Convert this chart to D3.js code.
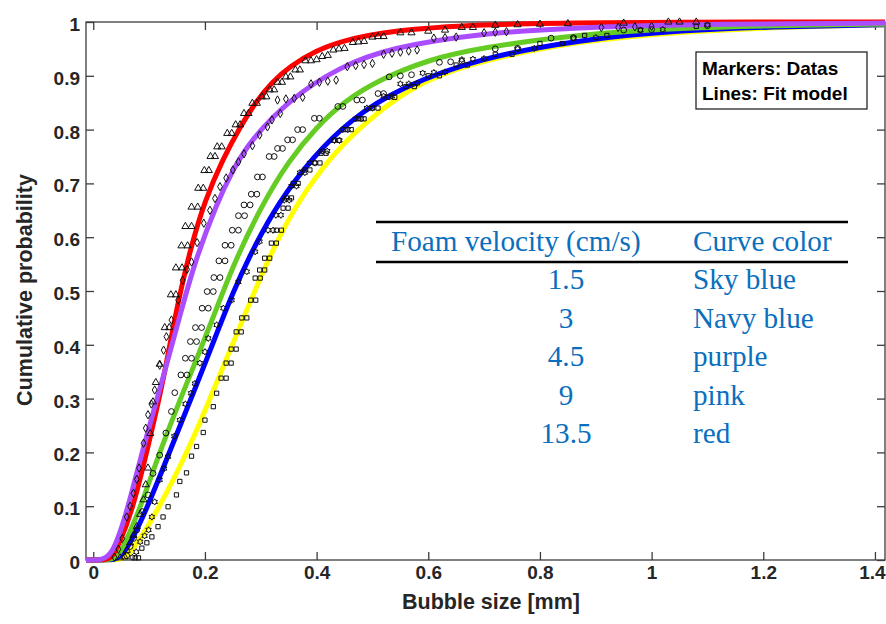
<!DOCTYPE html>
<html><head><meta charset="utf-8">
<script src="https://cdn.jsdelivr.net/npm/d3@7"></script>
<style>body{margin:0;background:#fff}svg{display:block}</style>
</head><body>
<svg id="chart" width="886" height="624"></svg>
<script>
// ---------- DATA ----------
const xTicks = [0, 0.2, 0.4, 0.6, 0.8, 1, 1.2, 1.4];
const xTickLabels = ["0", "0.2", "0.4", "0.6", "0.8", "1", "1.2", "1.4"];
const yTicks = [0, 0.1, 0.2, 0.3, 0.4, 0.5, 0.6, 0.7, 0.8, 0.9, 1];
const yTickLabels = ["0", "0.1", "0.2", "0.3", "0.4", "0.5", "0.6", "0.7", "0.8", "0.9", "1"];
const xLabel = "Bubble size [mm]";
const yLabel = "Cumulative probability";
const legendLines = ["Markers: Datas", "Lines: Fit model"];

// fit model lines [x, p]
const fitYellow = [[-0.013,0],[0.04,0],[0.05,0.002],[0.06,0.008],[0.075,0.025],[0.113,0.087],[0.173,0.21],[0.209,0.3],[0.239,0.375],[0.275,0.465],[0.316,0.566],[0.365,0.665],[0.43,0.756],[0.489,0.815],[0.549,0.863],[0.603,0.895],[0.692,0.928],[0.871,0.965],[1.05,0.982],[1.25,0.991],[1.418,0.995]];
const fitBlue = [[-0.013,0],[0.03,0],[0.04,0.002],[0.05,0.008],[0.063,0.025],[0.093,0.087],[0.14,0.21],[0.185,0.325],[0.215,0.405],[0.251,0.5],[0.286,0.578],[0.331,0.664],[0.394,0.75],[0.46,0.818],[0.549,0.878],[0.692,0.933],[0.871,0.967],[1.05,0.985],[1.25,0.992],[1.418,0.995]];
const fitGreen = [[-0.013,0],[0.025,0],[0.035,0.002],[0.045,0.009],[0.054,0.025],[0.081,0.087],[0.122,0.21],[0.166,0.325],[0.209,0.435],[0.251,0.55],[0.301,0.658],[0.35,0.742],[0.4,0.805],[0.45,0.853],[0.513,0.893],[0.6,0.93],[0.692,0.952],[0.871,0.977],[1.05,0.989],[1.25,0.994],[1.418,0.996]];
const fitRed = [[-0.013,0],[0.018,0],[0.028,0.002],[0.036,0.01],[0.044,0.025],[0.069,0.087],[0.098,0.21],[0.127,0.34],[0.146,0.452],[0.173,0.576],[0.2,0.669],[0.232,0.745],[0.263,0.805],[0.292,0.853],[0.32,0.888],[0.352,0.918],[0.4,0.947],[0.442,0.964],[0.53,0.984],[0.692,0.996],[0.9,0.999],[1.2,1],[1.418,1]];
const fitPurple = [[-0.013,0],[0.012,0],[0.022,0.004],[0.03,0.011],[0.039,0.025],[0.06,0.087],[0.0895,0.21],[0.124,0.335],[0.158,0.465],[0.182,0.555],[0.222,0.665],[0.25,0.725],[0.28,0.778],[0.352,0.857],[0.442,0.917],[0.531,0.952],[0.692,0.979],[0.871,0.99],[1.05,0.995],[1.25,0.997],[1.418,0.998]];

// measured data markers [x, p]
const dataTriangles = [[0.048,0.004],[0.056,0.006],[0.06,0.018],[0.066,0.032],[0.072,0.046],[0.078,0.062],[0.084,0.085],[0.09,0.112],[0.094,0.14],[0.098,0.171],[0.102,0.235],[0.107,0.294],[0.112,0.33],[0.119,0.364],[0.128,0.432],[0.136,0.432],[0.139,0.493],[0.148,0.493],[0.148,0.543],[0.159,0.543],[0.158,0.584],[0.169,0.584],[0.165,0.62],[0.176,0.62],[0.176,0.656],[0.187,0.656],[0.188,0.691],[0.197,0.691],[0.199,0.724],[0.207,0.724],[0.21,0.75],[0.218,0.75],[0.222,0.768],[0.23,0.768],[0.24,0.793],[0.248,0.793],[0.255,0.809],[0.263,0.809],[0.27,0.83],[0.278,0.83],[0.285,0.849],[0.293,0.849],[0.302,0.861],[0.31,0.861],[0.316,0.874],[0.324,0.874],[0.33,0.888],[0.338,0.888],[0.345,0.898],[0.353,0.898],[0.362,0.911],[0.37,0.911],[0.38,0.928],[0.39,0.928],[0.4,0.93],[0.41,0.936],[0.42,0.938],[0.43,0.948],[0.44,0.95],[0.45,0.951],[0.465,0.962],[0.475,0.963],[0.485,0.964],[0.5,0.972],[0.51,0.973],[0.52,0.973],[0.55,0.98],[0.57,0.98],[0.6,0.983],[0.63,0.985],[0.66,0.99],[0.68,0.99],[0.72,0.994],[0.76,0.995],[0.8,0.996],[0.85,0.997],[0.95,0.998],[1.03,1.0],[1.05,1.0],[1.08,1.0]];
const dataDiamonds = [[0.038,0.005],[0.045,0.02],[0.052,0.04],[0.06,0.08],[0.066,0.1],[0.072,0.124],[0.078,0.15],[0.082,0.171],[0.09,0.217],[0.094,0.245],[0.098,0.27],[0.104,0.29],[0.11,0.316],[0.119,0.362],[0.126,0.39],[0.131,0.415],[0.14,0.446],[0.152,0.483],[0.16,0.52],[0.168,0.54],[0.176,0.554],[0.186,0.59],[0.198,0.626],[0.209,0.65],[0.218,0.672],[0.227,0.694],[0.238,0.71],[0.25,0.725],[0.26,0.74],[0.27,0.755],[0.285,0.77],[0.298,0.79],[0.312,0.805],[0.32,0.818],[0.335,0.83],[0.33,0.855],[0.345,0.857],[0.36,0.858],[0.375,0.86],[0.39,0.885],[0.405,0.888],[0.42,0.89],[0.435,0.892],[0.455,0.917],[0.47,0.919],[0.485,0.921],[0.5,0.923],[0.52,0.94],[0.535,0.942],[0.55,0.944],[0.565,0.946],[0.58,0.948],[0.61,0.97],[0.63,0.971],[0.65,0.972],[0.7,0.98],[0.72,0.981],[0.74,0.982],[0.91,0.99],[0.94,0.99],[0.97,0.991],[1.0,0.992]];
const dataCircles = [[0.06,0.008],[0.066,0.025],[0.072,0.04],[0.078,0.056],[0.088,0.09],[0.098,0.121],[0.107,0.161],[0.119,0.195],[0.13,0.236],[0.14,0.276],[0.146,0.311],[0.157,0.344],[0.168,0.344],[0.165,0.375],[0.176,0.375],[0.174,0.406],[0.185,0.406],[0.183,0.432],[0.194,0.432],[0.195,0.468],[0.206,0.468],[0.204,0.499],[0.215,0.499],[0.216,0.525],[0.227,0.525],[0.225,0.556],[0.236,0.556],[0.236,0.585],[0.247,0.585],[0.249,0.613],[0.26,0.613],[0.26,0.64],[0.271,0.64],[0.27,0.66],[0.281,0.66],[0.283,0.68],[0.293,0.68],[0.294,0.712],[0.303,0.712],[0.315,0.75],[0.324,0.75],[0.33,0.765],[0.339,0.765],[0.348,0.781],[0.357,0.781],[0.366,0.8],[0.375,0.8],[0.396,0.821],[0.405,0.821],[0.438,0.843],[0.447,0.843],[0.472,0.855],[0.482,0.855],[0.51,0.867],[0.52,0.867],[0.53,0.898],[0.55,0.9],[0.57,0.902],[0.62,0.925],[0.64,0.926],[0.66,0.927],[0.72,0.95],[0.76,0.951],[0.82,0.97],[0.86,0.971],[0.95,0.985],[1.0,0.986],[1.1,0.993]];
const dataHexagrams = [[0.07,0.005],[0.077,0.015],[0.084,0.034],[0.092,0.045],[0.099,0.056],[0.105,0.08],[0.11,0.108],[0.119,0.149],[0.127,0.17],[0.134,0.192],[0.145,0.23],[0.155,0.26],[0.165,0.29],[0.175,0.31],[0.182,0.328],[0.191,0.366],[0.2,0.387],[0.206,0.412],[0.221,0.437],[0.233,0.468],[0.248,0.483],[0.26,0.517],[0.275,0.536],[0.29,0.573],[0.298,0.592],[0.313,0.613],[0.322,0.613],[0.327,0.641],[0.336,0.641],[0.342,0.669],[0.351,0.669],[0.355,0.695],[0.364,0.695],[0.37,0.72],[0.379,0.72],[0.388,0.738],[0.397,0.738],[0.41,0.76],[0.419,0.76],[0.432,0.78],[0.441,0.78],[0.447,0.8],[0.456,0.8],[0.47,0.82],[0.48,0.82],[0.49,0.84],[0.5,0.84],[0.52,0.862],[0.535,0.862],[0.55,0.885],[0.565,0.885],[0.58,0.886],[0.59,0.905],[0.61,0.906],[0.63,0.907],[0.66,0.93],[0.68,0.931],[0.7,0.932],[0.76,0.95],[0.79,0.951],[0.86,0.97],[0.9,0.971],[0.98,0.985],[1.02,0.986],[1.1,0.995]];
const dataSquares = [[0.075,0.004],[0.081,0.004],[0.087,0.022],[0.096,0.032],[0.105,0.043],[0.116,0.062],[0.125,0.08],[0.134,0.099],[0.149,0.121],[0.155,0.146],[0.167,0.162],[0.176,0.193],[0.185,0.211],[0.197,0.237],[0.2,0.26],[0.215,0.285],[0.221,0.31],[0.229,0.338],[0.238,0.338],[0.238,0.366],[0.247,0.366],[0.247,0.392],[0.256,0.392],[0.256,0.424],[0.265,0.424],[0.266,0.45],[0.275,0.45],[0.282,0.483],[0.291,0.483],[0.29,0.524],[0.299,0.524],[0.298,0.539],[0.307,0.539],[0.307,0.561],[0.316,0.561],[0.319,0.589],[0.328,0.589],[0.328,0.613],[0.337,0.613],[0.34,0.654],[0.349,0.654],[0.346,0.673],[0.355,0.673],[0.358,0.7],[0.367,0.7],[0.379,0.725],[0.388,0.725],[0.397,0.738],[0.406,0.738],[0.408,0.756],[0.417,0.756],[0.43,0.78],[0.44,0.78],[0.452,0.8],[0.462,0.8],[0.475,0.82],[0.485,0.82],[0.5,0.84],[0.51,0.84],[0.528,0.86],[0.54,0.86],[0.56,0.88],[0.575,0.88],[0.6,0.9],[0.62,0.9],[0.65,0.92],[0.67,0.92],[0.72,0.94],[0.75,0.94],[0.8,0.96],[0.84,0.96],[0.88,0.975],[0.92,0.975],[0.98,0.985],[1.08,0.992]];

// table
const tableHeader = ["Foam velocity (cm/s)", "Curve color"];
const foamVelocity = ["1.5", "3", "4.5", "9", "13.5"];
const curveColorNames = ["Sky blue", "Navy blue", "purple", "pink", "red"];

// ---------- CHART ----------
const svg = d3.select("#chart");
const L = 86, R = 885, T = 22, B = 560;
const x = d3.scaleLinear().domain([-0.013, 1.418]).range([L, R]);
const y = d3.scaleLinear().domain([0, 1]).range([B, T]);
const axisColor = "#3c3c3c";
const font = "'Liberation Sans', Arial, sans-serif";

// axes box and ticks
const gAx = svg.append("g");
gAx.append("rect").attr("x", L).attr("y", T).attr("width", R - L).attr("height", B - T)
  .attr("fill", "none").attr("stroke", axisColor).attr("stroke-width", 1.3);

function styleAxis(g, showLabels) {
  g.select(".domain").remove();
  g.selectAll(".tick line").attr("stroke", axisColor).attr("stroke-width", 1.3);
  g.selectAll(".tick text").attr("fill", "#262626").style("font-family", font)
    .style("font-size", "19px").style("font-weight", "bold");
  if (!showLabels) g.selectAll(".tick text").remove();
}
gAx.append("g").attr("transform", `translate(0,${B})`)
  .call(d3.axisBottom(x).tickValues(xTicks).tickFormat((d, i) => xTickLabels[i]).tickSizeInner(-8).tickSizeOuter(0).tickPadding(6))
  .call(g => styleAxis(g, true))
  .call(g => g.selectAll(".tick text").attr("dx", (d, i) => i === xTicks.length - 1 ? -3 : 0));
gAx.append("g").attr("transform", `translate(0,${T})`)
  .call(d3.axisTop(x).tickValues(xTicks).tickSizeInner(-8).tickSizeOuter(0))
  .call(g => styleAxis(g, false));
gAx.append("g").attr("transform", `translate(${L},0)`)
  .call(d3.axisLeft(y).tickValues(yTicks).tickFormat((d, i) => yTickLabels[i]).tickSizeInner(-8).tickSizeOuter(0).tickPadding(6))
  .call(g => styleAxis(g, true))
  .call(g => g.selectAll(".tick text").attr("dy", "0.45em"));
gAx.append("g").attr("transform", `translate(${R},0)`)
  .call(d3.axisRight(y).tickValues(yTicks).tickSizeInner(-8).tickSizeOuter(0))
  .call(g => styleAxis(g, false));

// axis titles
svg.append("text").attr("x", 491).attr("y", 609).attr("text-anchor", "middle")
  .style("font-family", font).style("font-size", "21.5px").style("font-weight", "bold")
  .attr("fill", "#262626").text(xLabel);
svg.append("text").attr("transform", `translate(32,${(T + B) / 2 - 1}) rotate(-90)`).attr("text-anchor", "middle")
  .style("font-family", font).style("font-size", "21.5px").style("font-weight", "bold")
  .attr("fill", "#262626").text(yLabel);

// fit lines
const line = d3.line().x(d => x(d[0])).y(d => y(d[1])).curve(d3.curveBasis);
const fits = [
  {data: fitYellow, color: "#ffff00"},
  {data: fitBlue, color: "#0000ff"},
  {data: fitGreen, color: "#64cc22"},
  {data: fitRed, color: "#ff0000"},
  {data: fitPurple, color: "#aa4dff"}
];
svg.append("g").selectAll("path").data(fits).join("path")
  .attr("d", d => line(d.data)).attr("fill", "none")
  .attr("stroke", d => d.color).attr("stroke-width", 5).attr("stroke-linejoin", "round");

// markers
const symbolHexagram = {
  draw(ctx, size) {
    const r = Math.sqrt(size) * 0.62, ri = r * 0.577;
    for (let i = 0; i < 12; i++) {
      const a = i * Math.PI / 6 - Math.PI / 2, rr = i % 2 ? ri : r;
      const px = rr * Math.cos(a), py = rr * Math.sin(a);
      if (i === 0) ctx.moveTo(px, py); else ctx.lineTo(px, py);
    }
    ctx.closePath();
  }
};
const markerSets = [
  {data: dataSquares, type: d3.symbolSquare, size: 18},
  {data: dataHexagrams, type: symbolHexagram, size: 26},
  {data: dataCircles, type: d3.symbolCircle, size: 26},
  {data: dataDiamonds, type: d3.symbolDiamond, size: 20},
  {data: dataTriangles, type: d3.symbolTriangle, size: 22}
];
const gm = svg.append("g");
markerSets.forEach(ms => {
  const sym = d3.symbol().type(ms.type).size(ms.size);
  gm.append("g").selectAll("path").data(ms.data).join("path")
    .attr("transform", d => `translate(${x(d[0])},${y(d[1])})`)
    .attr("d", sym).attr("fill", "none").attr("stroke", "#111").attr("stroke-width", 1);
});

// legend box
const lg = svg.append("g");
lg.append("rect").attr("x", 696).attr("y", 52).attr("width", 171).attr("height", 57)
  .attr("fill", "#fff").attr("stroke", "#262626").attr("stroke-width", 1.3);
lg.selectAll("text").data(legendLines).join("text")
  .attr("x", 702).attr("y", (d, i) => 75 + i * 24.5)
  .style("font-family", font).style("font-size", "19px").style("font-weight", "bold")
  .attr("fill", "#000").text(d => d);

// table
const tcol = "#0a6fbd";
const serif = "'Liberation Serif', 'Times New Roman', serif";
const fs = "29.2px";
const tg = svg.append("g");
tg.append("line").attr("x1", 376).attr("x2", 848).attr("y1", 222).attr("y2", 222).attr("stroke", "#000").attr("stroke-width", 2.5);
tg.append("line").attr("x1", 376).attr("x2", 848).attr("y1", 262).attr("y2", 262).attr("stroke", "#000").attr("stroke-width", 2.5);
tg.append("text").attr("x", 391).attr("y", 251).style("font-family", serif).style("font-size", fs)
  .attr("fill", tcol).text(tableHeader[0]);
tg.append("text").attr("x", 693).attr("y", 251).style("font-family", serif).style("font-size", fs)
  .attr("fill", tcol).text(tableHeader[1]);
const rowY = d3.scalePoint().domain(d3.range(foamVelocity.length)).range([289, 443]);
tg.selectAll("text.v").data(foamVelocity).join("text").attr("class", "v")
  .attr("x", 566).attr("y", (d, i) => rowY(i)).attr("text-anchor", "middle")
  .style("font-family", serif).style("font-size", fs).attr("fill", tcol).text(d => d);
tg.selectAll("text.c").data(curveColorNames).join("text").attr("class", "c")
  .attr("x", 693).attr("y", (d, i) => rowY(i))
  .style("font-family", serif).style("font-size", fs).attr("fill", tcol).text(d => d);
</script>
</body></html>
